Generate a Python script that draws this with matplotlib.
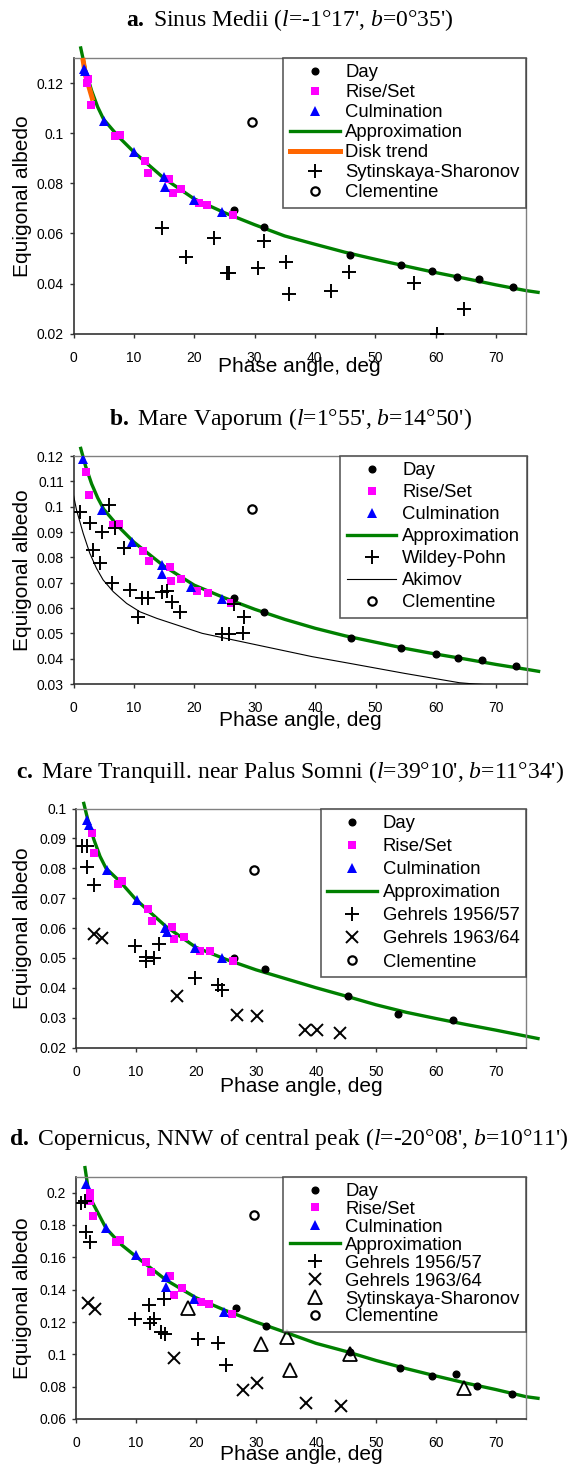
import matplotlib
matplotlib.use('Agg')
import matplotlib.pyplot as plt
import numpy as np
from matplotlib.ticker import FuncFormatter

plt.rcParams['font.family'] = ['Liberation Sans', 'DejaVu Sans']
plt.rcParams['mathtext.fontset'] = 'custom'
plt.rcParams['mathtext.rm'] = 'Liberation Serif'
plt.rcParams['mathtext.it'] = 'Liberation Serif:italic'
plt.rcParams['mathtext.bf'] = 'Liberation Serif:bold'

##########
#  Data  #
##########

# a. Sinus Medii
a_day_x = [26.6, 31.6, 45.9, 54.3, 59.5, 63.6, 67.2, 72.9]
a_day_y = [0.0692, 0.0627, 0.0515, 0.0475, 0.0451, 0.0428, 0.0419, 0.0388]
a_rise_x = [2.4, 2.2, 2.9, 6.9, 7.7, 11.8, 12.4, 15.8, 16.5, 17.8, 20.8, 22.2, 26.4]
a_rise_y = [0.1217, 0.1200, 0.1113, 0.0987, 0.0992, 0.0888, 0.0840, 0.0816, 0.0763, 0.0777, 0.0723, 0.0713, 0.0672]
a_culm_x = [1.7, 1.9, 5.1, 10.1, 15.0, 15.1, 19.9, 24.6]
a_culm_y = [0.1257, 0.1247, 0.1049, 0.0924, 0.0824, 0.0787, 0.0733, 0.0684]
a_appr_x = [1.2, 2, 3, 4, 5, 7.5, 10, 15, 20, 25, 30, 35, 40, 45, 50, 55, 60, 65, 70, 75, 77]
a_appr_y = [0.134, 0.125, 0.117, 0.1105, 0.1055, 0.0985, 0.0925, 0.0820, 0.0738, 0.0683, 0.0635,
            0.0590, 0.0557, 0.0525, 0.0497, 0.0470, 0.0444, 0.0420, 0.0395, 0.0372, 0.0365]
a_disk_x = [1.6, 2.0, 2.5, 3.1]
a_disk_y = [0.129, 0.123, 0.119, 0.114]
a_sytin_x = [14.7, 23.3, 18.6, 25.4, 25.8, 30.6, 31.6, 35.3, 35.7, 42.6, 45.6, 56.5, 64.8, 60.3]
a_sytin_y = [0.0620, 0.0580, 0.0507, 0.0444, 0.0444, 0.0463, 0.0571, 0.0487, 0.0357, 0.0371,
             0.0445, 0.0404, 0.0300, 0.0200]
a_clem_x = [29.6]
a_clem_y = [0.1044]

# b. Mare Vaporum
b_day_x = [26.6, 31.6, 45.9, 54.3, 60.0, 63.6, 67.6, 73.2]
b_day_y = [0.0638, 0.0583, 0.0480, 0.0441, 0.0418, 0.0401, 0.0393, 0.0371]
b_rise_x = [2.1, 2.6, 6.5, 7.6, 11.5, 12.5, 15.9, 16.2, 17.8, 20.5, 22.2, 26.0]
b_rise_y = [0.1138, 0.1046, 0.0928, 0.0930, 0.0825, 0.0787, 0.0763, 0.0708, 0.0714, 0.0667, 0.0661, 0.0621]
b_culm_x = [1.5, 4.7, 9.7, 14.6, 14.6, 19.5, 24.6]
b_culm_y = [0.1187, 0.0987, 0.0862, 0.0768, 0.0733, 0.0682, 0.0634]
b_appr_x = [1.2, 2, 3, 4, 5, 7.5, 10, 15, 20, 25, 30, 35, 40, 45, 50, 55, 60, 65, 70, 75, 77]
b_appr_y = [0.123, 0.116, 0.109, 0.1035, 0.0990, 0.092, 0.086, 0.0765, 0.069, 0.064, 0.0595,
            0.0555, 0.052, 0.049, 0.0465, 0.044, 0.0418, 0.0398, 0.0377, 0.0358, 0.0350]
b_wildey_x = [1.1, 2.7, 3.3, 4.4, 4.7, 5.8, 6.9, 8.3, 6.3, 9.4, 10.7, 11.3, 12.4, 14.7, 15.5,
              16.3, 17.7, 24.6, 25.8, 28.0, 26.6, 28.3]
b_wildey_y = [0.0980, 0.0934, 0.0829, 0.0776, 0.0901, 0.1007, 0.0915, 0.0836, 0.0697, 0.0671,
              0.0566, 0.0638, 0.0638, 0.0662, 0.0668, 0.0625, 0.0585, 0.0496, 0.0496, 0.0503,
              0.0614, 0.0563]
b_akimov_x = [0, 0.5, 1.6, 2.7, 3.8, 4.9, 6.6, 8.8, 11.0, 13.8, 21.3, 30.4, 39.5, 45.6, 54.8,
              63.9, 66.4, 70]
b_akimov_y = [0.1045, 0.0987, 0.0895, 0.0816, 0.0757, 0.0711, 0.0664, 0.0618, 0.0585, 0.0559,
              0.0500, 0.0454, 0.0408, 0.0382, 0.0342, 0.0305, 0.0300, 0.0295]
b_clem_x = [29.6]
b_clem_y = [0.0990]

# c. Mare Tranquill. near Palus Somni
c_day_x = [26.4, 31.5, 45.4, 53.7, 62.8]
c_day_y = [0.0498, 0.0464, 0.0372, 0.0311, 0.0291]
c_rise_x = [2.7, 3.0, 7.0, 7.7, 12.0, 12.7, 16.0, 16.3, 18.0, 20.6, 22.3, 26.2]
c_rise_y = [0.0919, 0.0852, 0.0746, 0.0758, 0.0663, 0.0624, 0.0604, 0.0564, 0.0570, 0.0522, 0.0522, 0.0490]
c_culm_x = [1.8, 2.2, 5.2, 10.1, 14.9, 15.1, 19.8, 24.3]
c_culm_y = [0.0961, 0.0946, 0.0794, 0.0693, 0.0600, 0.0587, 0.0533, 0.0500]
c_appr_x = [1.3, 2, 3, 4, 5, 7.5, 10, 15, 20, 25, 30, 35, 40, 45, 50, 55, 60, 65, 70, 75, 77]
c_appr_y = [0.1017, 0.096, 0.0895, 0.0840, 0.0800, 0.0752, 0.0695, 0.0605, 0.0535, 0.0495, 0.046,
            0.043, 0.040, 0.0372, 0.0343, 0.0318, 0.0297, 0.0277, 0.0258, 0.0238, 0.0230]
c_geh56_x = [1.0, 1.8, 1.9, 3.0, 9.8, 11.7, 11.7, 13.0, 13.8, 19.9, 23.7, 24.4]
c_geh56_y = [0.0875, 0.0875, 0.0805, 0.0743, 0.0539, 0.0503, 0.0490, 0.0500, 0.0545, 0.0433, 0.0408, 0.0392]
c_geh63_x = [3.0, 4.4, 16.8, 26.8, 30.1, 38.1, 40.1, 44.0]
c_geh63_y = [0.0579, 0.0565, 0.0373, 0.0310, 0.0305, 0.0258, 0.0258, 0.0247]
c_clem_x = [29.7]
c_clem_y = [0.0794]

# d. Copernicus, NNW of central peak
d_day_x = [26.6, 31.7, 45.6, 54.0, 59.3, 63.3, 66.9, 72.6]
d_day_y = [0.1288, 0.1174, 0.1015, 0.0916, 0.0869, 0.0881, 0.0807, 0.0757]
d_rise_x = [2.4, 2.3, 2.9, 6.7, 7.4, 11.7, 12.5, 15.7, 16.4, 17.7, 20.8, 22.1, 26.0]
d_rise_y = [0.2000, 0.1948, 0.1856, 0.1695, 0.1707, 0.1571, 0.1509, 0.1484, 0.1370, 0.1408,
            0.1325, 0.1309, 0.1247]
d_culm_x = [1.7, 5.0, 10.0, 15.0, 15.0, 19.7, 24.6]
d_culm_y = [0.2052, 0.1779, 0.1612, 0.1478, 0.1416, 0.1340, 0.1263]
d_appr_x = [1.5, 2, 2.6, 5, 7.5, 10, 15, 20, 25, 30, 35, 40, 45, 50, 55, 60, 65, 70, 75, 77]
d_appr_y = [0.2155, 0.203, 0.195, 0.178, 0.168, 0.1605, 0.146, 0.135, 0.127, 0.120, 0.1135,
            0.1068, 0.1018, 0.0962, 0.0912, 0.0866, 0.0822, 0.0782, 0.0738, 0.0728]
d_geh56_x = [0.9, 1.5, 1.7, 2.4, 9.9, 12.1, 12.3, 13.0, 14.2, 14.6, 14.9, 20.3, 23.7, 25.0]
d_geh56_y = [0.1938, 0.1948, 0.1756, 0.1697, 0.1216, 0.1304, 0.1195, 0.1216, 0.1137, 0.1344,
             0.1123, 0.1092, 0.1071, 0.0931]
d_geh63_x = [2.0, 3.1, 16.3, 27.9, 30.1, 38.3, 44.2]
d_geh63_y = [0.1315, 0.1282, 0.0978, 0.0782, 0.0824, 0.0696, 0.0683]
d_sytin_x = [18.6, 30.8, 35.2, 35.6, 45.6, 64.7]
d_sytin_y = [0.1288, 0.1065, 0.1108, 0.0906, 0.0999, 0.0793]
d_clem_x = [29.6]
d_clem_y = [0.1862]

titles = [
    r"$\mathbf{a.}$ Sinus Medii ($\mathit{l}$=-1°17', $\mathit{b}$=0°35')",
    r"$\mathbf{b.}$ Mare Vaporum ($\mathit{l}$=1°55', $\mathit{b}$=14°50')",
    r"$\mathbf{c.}$ Mare Tranquill. near Palus Somni ($\mathit{l}$=39°10', $\mathit{b}$=11°34')",
    r"$\mathbf{d.}$ Copernicus, NNW of central peak ($\mathit{l}$=-20°08', $\mathit{b}$=10°11')",
]

###########
#  Setup  #
###########

W, H = 575, 1466
fig = plt.figure(figsize=(W / 100, H / 100), dpi=100)

GREEN = '#008000'
MAGENTA = '#FF00FF'
BLUE = '#0000FF'
ORANGE = '#FF6600'


def place(l, r, t, b):
    return [l / W, 1 - b / H, (r - l) / W, (b - t) / H]


def style_axes(ax, ylim, yticks, box, xlab_y):
    l, r, t, b = box
    ax.set_xlim(0, 75)
    ax.set_ylim(*ylim)
    ax.set_xticks(range(0, 71, 10))
    ax.set_yticks(yticks)
    ax.yaxis.set_major_formatter(FuncFormatter(lambda v, p: '%g' % round(v, 4)))
    ax.tick_params(direction='out', length=3, width=1, labelsize=10, colors='#333333')
    ax.tick_params(axis='x', pad=9.5, labelcolor='black')
    ax.tick_params(axis='y', pad=4, labelcolor='black')
    for s in ['left', 'bottom']:
        ax.spines[s].set_color('#333333')
        ax.spines[s].set_linewidth(1.2)
    for s in ['top', 'right']:
        ax.spines[s].set_color('#808080')
        ax.spines[s].set_linewidth(1.0)
    ax.set_ylabel('Equigonal albedo', fontsize=15, va='center')
    ax.yaxis.set_label_coords((23 - l) / (r - l), 0.5)
    ax.set_xlabel('Phase angle, deg', fontsize=15, va='center')
    ax.xaxis.set_label_coords(0.5, (b - xlab_y) / (b - t))


def common(ax, day_x, day_y, rise_x, rise_y, culm_x, culm_y, appr_x, appr_y):
    appr, = ax.plot(appr_x, appr_y, color=GREEN, lw=2.4, clip_on=False, zorder=2,
                    label='Approximation')
    day, = ax.plot(day_x, day_y, 'o', color='black', ms=4.8, ls='none', zorder=4, label='Day')
    rise, = ax.plot(rise_x, rise_y, 's', color=MAGENTA, ms=5.5, mew=0, ls='none', zorder=4,
                    label='Rise/Set')
    culm, = ax.plot(culm_x, culm_y, '^', color=BLUE, ms=7.5, mew=0, ls='none', zorder=4,
                    label='Culmination')
    return day, rise, culm, appr


def plus(ax, x, y, label):
    h, = ax.plot(x, y, '+', color='black', ms=10, mew=1.4, ls='none', zorder=5, label=label)
    return h


def cross(ax, x, y, label):
    h, = ax.plot(x, y, 'x', color='black', ms=8.5, mew=1.4, ls='none', zorder=5, label=label)
    return h


def clem(ax, x, y):
    h, = ax.plot(x, y, 'o', mfc='white', mec='black', ms=6, mew=1.6, ls='none', zorder=5,
                 label='Clementine')
    return h


def legend(ax, handles, spacing):
    leg = ax.legend(handles=handles, loc='upper right', bbox_to_anchor=(1, 1),
                    borderaxespad=0, fontsize=13.3, frameon=True, fancybox=False,
                    handlelength=2.7, handletextpad=0.3, borderpad=0.35,
                    labelspacing=spacing)
    leg.get_frame().set_edgecolor('#333333')
    leg.get_frame().set_linewidth(1.2)
    leg.set_zorder(10)


#############
#  Panel a  #
#############

box = (73.5, 526, 58, 333.7)
ax = fig.add_axes(place(*box))
day, rise, culm, appr = common(ax, a_day_x, a_day_y, a_rise_x, a_rise_y,
                               a_culm_x, a_culm_y, a_appr_x, a_appr_y)
disk, = ax.plot(a_disk_x, a_disk_y, color=ORANGE, lw=3.6, zorder=3, clip_on=False,
                label='Disk trend')
sy = plus(ax, a_sytin_x, a_sytin_y, 'Sytinskaya-Sharonov')
cl = clem(ax, a_clem_x, a_clem_y)
style_axes(ax, (0.02, 0.13), np.arange(0.02, 0.121, 0.02), box, 366.7)
legend(ax, [day, rise, culm, appr, disk, sy, cl], 0.16)
fig.text(290 / W, 1 - 20 / H, titles[0], ha='center', va='center', fontsize=17,
         family='Liberation Serif')

#############
#  Panel b  #
#############

box = (73.5, 526.5, 456, 684)
ax = fig.add_axes(place(*box))
day, rise, culm, appr = common(ax, b_day_x, b_day_y, b_rise_x, b_rise_y,
                               b_culm_x, b_culm_y, b_appr_x, b_appr_y)
wp = plus(ax, b_wildey_x, b_wildey_y, 'Wildey-Pohn')
ak, = ax.plot(b_akimov_x, b_akimov_y, color='black', lw=0.8, zorder=3, label='Akimov')
cl = clem(ax, b_clem_x, b_clem_y)
style_axes(ax, (0.03, 0.12), np.arange(0.03, 0.121, 0.01), box, 720.8)
legend(ax, [day, rise, culm, appr, wp, ak, cl], 0.27)
fig.text(290 / W, 1 - 419 / H, titles[1], ha='center', va='center', fontsize=17,
         family='Liberation Serif')

#############
#  Panel c  #
#############

box = (76, 526, 808.5, 1047.5)
ax = fig.add_axes(place(*box))
day, rise, culm, appr = common(ax, c_day_x, c_day_y, c_rise_x, c_rise_y,
                               c_culm_x, c_culm_y, c_appr_x, c_appr_y)
g56 = plus(ax, c_geh56_x, c_geh56_y, 'Gehrels 1956/57')
g63 = cross(ax, c_geh63_x, c_geh63_y, 'Gehrels 1963/64')
cl = clem(ax, c_clem_x, c_clem_y)
style_axes(ax, (0.02, 0.10), np.arange(0.02, 0.101, 0.01), box, 1086.7)
legend(ax, [day, rise, culm, appr, g56, g63, cl], 0.33)
fig.text(290 / W, 1 - 772 / H, titles[2], ha='center', va='center', fontsize=17,
         family='Liberation Serif')

#############
#  Panel d  #
#############

box = (76, 526, 1176.5, 1419)
ax = fig.add_axes(place(*box))
day, rise, culm, appr = common(ax, d_day_x, d_day_y, d_rise_x, d_rise_y,
                               d_culm_x, d_culm_y, d_appr_x, d_appr_y)
g56 = plus(ax, d_geh56_x, d_geh56_y, 'Gehrels 1956/57')
g63 = cross(ax, d_geh63_x, d_geh63_y, 'Gehrels 1963/64')
st, = ax.plot(d_sytin_x, d_sytin_y, '^', mfc='none', mec='black', ms=10.5, mew=1.3,
              ls='none', zorder=5, label='Sytinskaya-Sharonov')
cl = clem(ax, d_clem_x, d_clem_y)
style_axes(ax, (0.06, 0.21), np.arange(0.06, 0.201, 0.02), box, 1455)
legend(ax, [day, rise, culm, appr, g56, g63, st, cl], 0.05)
fig.text(289 / W, 1 - 1139 / H, titles[3], ha='center', va='center', fontsize=17,
         family='Liberation Serif')

fig.savefig('out.png', dpi=100)
